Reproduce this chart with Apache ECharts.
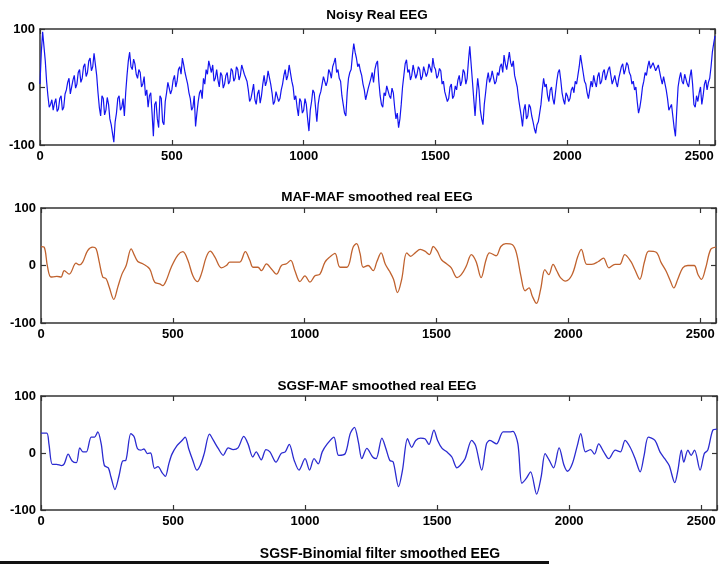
<!DOCTYPE html>
<html>
<head>
<meta charset="utf-8">
<script src="https://cdn.jsdelivr.net/npm/echarts@6/dist/echarts.min.js"></script>
<style>
html,body{margin:0;padding:0;background:#fff;}
#chart{width:723px;height:564px;}
</style>
</head>
<body>
<div id="chart"></div>
<script>
// ---- Data ----
const panelTitles = ['Noisy Real EEG', 'MAF-MAF smoothed real EEG', 'SGSF-MAF smoothed real EEG', 'SGSF-Binomial filter smoothed EEG'];
const xTicks = [0, 500, 1000, 1500, 2000, 2500];
const yTicks = [-100, 0, 100];
const sampleMax = 2560;
const noisyStep = 5; // samples between readings

// Noisy real EEG, one reading every 5 samples (0..2560)
const noisyEEG = [
  5, 60, 95, 70, 45, 10, -15, -35, -30, -22, -40, -28, -20, -42, -38, -20, -15, -40, -35, -12,
  -5, 8, 15, -12, -10, 12, 20, -2, 5, 25, 30, 8, 15, 35, 40, 18, 25, 45, 50, 28,
  35, 58, 55, 20, -10, -35, -50, -15, -20, -48, -40, -18, -30, -55, -65, -80, -95, -60, -45, -20,
  -15, -40, -35, -20, -50, -10, 20, 45, 60, 35, 30, 48, 40, 22, 15, 30, 25, 0, 5, 18,
  -15, -5, -35, -15, -10, -45, -85, -30, -25, -55, -70, -15, -20, -60, -65, -25, -10, 8, 5, -12,
  -5, 12, 20, 0, 10, 30, 35, 22, 50, 38, 25, 15, 5, -10, -20, -40, -35, -15, -68, -45,
  -25, -10, -5, -20, 15, 5, 30, 22, 45, 35, 25, 38, 10, 15, 30, 12, 0, 25, 20, -2,
  5, 20, 25, 5, 10, 32, 28, 10, 15, 35, 30, 12, 20, 38, 40, 22, 25, 10, -5, -25,
  -20, -8, 5, -22, -30, -12, -5, -28, -15, 5, 20, 2, 10, 28, 25, 5, -10, -30, -25, -8,
  -5, -25, -20, -5, 5, 20, 30, 12, 20, 38, 35, 10, 0, -22, -15, -35, -50, -20, -25, -45,
  -40, -20, -30, -55, -76, -40, -25, -5, -10, -35, -60, -30, -15, -8, 5, 18, 20, 2, 10, 30,
  25, 15, 35, 42, 50, 25, 30, 15, 10, -15, -30, -45, -50, -10, 15, 25, 30, 55, 75, 60,
  50, 35, 40, 28, 20, 5, -5, -22, -20, -2, 0, 15, 25, 8, 30, 40, 45, 10, -15, -30,
  -35, -10, -15, 2, 0, -15, -20, -2, -10, -35, -55, -45, -70, -55, -30, 0, 20, 40, 47, 25,
  30, 12, 20, 38, 35, 15, 22, 35, 30, 12, 18, 35, 33, 18, 25, 40, 38, 25, 50, 35,
  30, 15, 20, 32, 28, 5, 10, -8, -5, -25, -20, 0, 5, -20, -15, 2, -5, 12, 20, 2,
  10, 30, 25, 5, 15, 45, 70, 40, 10, -20, -50, -15, 15, -5, -40, -55, -65, -30, -10, 12,
  25, 8, 15, 28, 25, 5, 10, 25, 20, 35, 40, 25, 55, 40, 30, 45, 60, 42, 35, 45,
  20, 10, 0, -20, -35, -50, -68, -40, -30, -55, -50, -30, -35, -50, -60, -72, -80, -65, -60, -45,
  -30, -5, 15, 0, 5, -15, -25, -5, 0, -20, -30, -10, 10, 25, 30, 12, -10, -22, -30, -10,
  -15, -25, -20, -5, 0, -10, 10, 5, 20, 35, 55, 40, 25, 10, 5, -10, -20, -5, 10, 0,
  20, 8, 0, 18, 25, 5, 10, 25, 30, 12, 15, 30, 35, 20, 5, 12, 20, 8, 0, 15,
  25, 35, 40, 22, 30, 42, 38, 25, 20, 5, 10, -5, 0, -25, -45, -35, -20, 0, 10, 25,
  20, 35, 45, 32, 30, 42, 40, 28, 25, 38, 35, 15, 5, 18, 15, -5, -20, -40, -35, -30,
  -50, -70, -85, -40, 0, 15, 25, 10, 5, 22, 20, 5, 0, 18, 30, 5, -30, -35, -15, -25,
  -10, 0, -30, -15, 5, 12, -5, 8, 15, 35, 60, 75, 88
];

// MAF-MAF smoothed EEG: [sample, value]
const mafMafEEG = [
  [0,33],[12,32],[25,-3],[38,-20],[60,-19],[76,-20],[88,-9],[107,-15],[133,4],[145,1],
  [158,6],[177,26],[196,32],[209,29],[221,6],[234,-20],[247,-23],[259,-38],[276,-59],[291,-38],
  [307,-15],[323,0],[342,29],[354,18],[367,7],[386,3],[412,-6],[431,-29],[450,-32],[462,-35],
  [475,-26],[494,-3],[519,18],[538,24],[557,9],[576,-18],[593,-28],[608,-15],[627,15],[642,25],
  [659,15],[684,-4],[703,0],[716,6],[735,6],[754,6],[775,24],[792,9],[804,-3],[823,-3],
  [836,-9],[855,3],[874,-6],[893,-15],[912,0],[931,3],[947,9],[963,-9],[982,-28],[1001,-18],
  [1020,-29],[1039,-18],[1058,-15],[1077,6],[1096,15],[1115,21],[1134,-3],[1160,-3],[1184,32],[1197,38],
  [1210,21],[1222,-3],[1241,0],[1260,-9],[1274,7],[1290,22],[1306,2],[1322,-10],[1337,-24],[1352,-47],
  [1368,-24],[1387,22],[1402,16],[1419,22],[1438,28],[1456,25],[1473,19],[1488,33],[1503,25],[1519,10],
  [1538,3],[1556,-4],[1578,-21],[1594,-16],[1613,-1],[1632,19],[1650,7],[1669,-21],[1688,10],[1701,22],
  [1726,17],[1744,33],[1763,38],[1788,36],[1803,22],[1820,-18],[1836,-44],[1851,-39],[1863,-53],[1879,-66],
  [1895,-41],[1911,-7],[1926,-16],[1942,2],[1957,-10],[1970,-21],[1989,-27],[2014,-16],[2036,16],[2049,28],
  [2070,2],[2089,2],[2114,7],[2133,13],[2154,-4],[2177,2],[2195,2],[2214,19],[2237,7],[2252,-7],
  [2271,-24],[2289,7],[2305,25],[2333,23],[2352,5],[2371,-10],[2387,-27],[2400,-39],[2415,-24],[2434,-4],
  [2453,0],[2477,0],[2492,-16],[2505,-24],[2521,-4],[2540,28],[2560,32]
];

// SGSF-MAF smoothed EEG: [sample, value]
const sgsfMafEEG = [
  [0,35],[22,35],[30,16],[43,-20],[59,-20],[78,-22],[88,-19],[103,-2],[118,-14],[134,-17],
  [147,9],[159,2],[172,2],[190,28],[203,28],[215,37],[228,16],[240,-22],[255,-26],[265,-42],
  [280,-64],[296,-39],[309,-14],[321,-13],[340,34],[353,28],[365,8],[378,5],[390,7],[403,-1],
  [415,0],[430,-27],[443,-24],[459,-35],[471,-41],[484,-19],[496,-2],[515,13],[534,22],[546,28],
  [559,8],[575,-13],[590,-30],[603,-22],[618,-1],[638,33],[653,22],[671,8],[690,-4],[709,9],
  [728,6],[746,9],[768,29],[784,16],[802,-7],[815,2],[834,-12],[852,6],[867,2],[890,-16],
  [909,-1],[925,2],[940,15],[959,-13],[977,-30],[1000,-10],[1017,-30],[1034,-10],[1050,-19],[1065,2],
  [1084,16],[1109,28],[1127,-4],[1152,-1],[1171,34],[1187,45],[1202,19],[1215,-10],[1234,8],[1256,-7],
  [1269,-10],[1291,26],[1306,8],[1321,-13],[1334,-16],[1354,-59],[1369,-30],[1388,25],[1404,10],[1419,22],
  [1438,26],[1454,25],[1469,15],[1488,40],[1502,22],[1519,8],[1537,2],[1556,-7],[1575,-26],[1587,-22],
  [1606,-10],[1631,22],[1646,13],[1669,-30],[1687,16],[1700,22],[1725,16],[1750,37],[1775,37],[1787,38],
  [1806,16],[1821,-53],[1837,-45],[1854,-33],[1877,-72],[1894,-42],[1909,-1],[1925,-13],[1941,-26],[1962,9],
  [1981,-22],[1994,-32],[2012,-19],[2031,13],[2044,34],[2062,2],[2081,6],[2096,-2],[2112,16],[2131,2],
  [2150,-10],[2175,5],[2194,2],[2212,22],[2231,10],[2250,-10],[2269,-33],[2284,-4],[2300,28],[2325,22],
  [2344,2],[2362,-10],[2379,-22],[2400,-52],[2412,-30],[2425,5],[2434,-16],[2450,5],[2462,-4],[2475,5],
  [2496,-30],[2512,-1],[2525,5],[2544,40],[2560,42]
];

// ---- Chart ----
const chart = echarts.init(document.getElementById('chart'), null, {renderer: 'canvas'});
const FONT = '"Liberation Sans", Arial, Helvetica, sans-serif';
const axisCol = '#333';

const grids = [
  {left: 40, top: 29, width: 675, height: 116},
  {left: 41, top: 208, width: 675, height: 115},
  {left: 41, top: 396, width: 676, height: 114}
];
const titleTops = [3, 185, 374, 542];
const titleCenters = [372, 372, 372, 375];
const titleSizes = [13.5, 13.5, 13.5, 14];

const xAxes = [], yAxes = [];
grids.forEach((g, i) => {
  const common = {
    type: 'value', gridIndex: i, min: 0, max: sampleMax, interval: 500,
    axisLine: {show: true, onZero: false, lineStyle: {color: axisCol, width: 1.5}},
    axisTick: {show: true, inside: true, length: 5, lineStyle: {color: axisCol, width: 1.2}},
    splitLine: {show: false}
  };
  xAxes.push(Object.assign({}, common, {
    position: 'bottom',
    axisLabel: {
      show: true, margin: 5, color: '#000', fontFamily: FONT, fontWeight: 'bold', fontSize: 13,
      formatter: v => (xTicks.indexOf(v) >= 0 ? String(v) : '')
    }
  }));
  xAxes.push(Object.assign({}, common, {position: 'top', axisLabel: {show: false}}));
  const ycommon = {
    type: 'value', gridIndex: i, min: yTicks[0], max: yTicks[yTicks.length - 1], interval: 100,
    axisLine: {show: true, onZero: false, lineStyle: {color: axisCol, width: 1.5}},
    axisTick: {show: true, inside: true, length: 5, lineStyle: {color: axisCol, width: 1.2}},
    splitLine: {show: false}
  };
  yAxes.push(Object.assign({}, ycommon, {
    position: 'left',
    axisLabel: {show: true, margin: 5, color: '#000', fontFamily: FONT, fontWeight: 'bold', fontSize: 13}
  }));
  yAxes.push(Object.assign({}, ycommon, {position: 'right', axisLabel: {show: false}}));
});

const noisyData = noisyEEG.map((v, k) => [k * noisyStep, v]);

const option = {
  animation: false,
  backgroundColor: '#fff',
  title: panelTitles.map((t, i) => ({
    text: t, left: titleCenters[i], top: titleTops[i], textAlign: 'center',
    textStyle: {fontFamily: FONT, fontWeight: 'bold', fontSize: titleSizes[i], color: '#000'}
  })),
  grid: grids,
  xAxis: xAxes,
  yAxis: yAxes,
  series: [
    {type: 'line', xAxisIndex: 0, yAxisIndex: 0, data: noisyData, showSymbol: false,
     lineStyle: {color: '#1414f0', width: 1.2}},
    {type: 'line', xAxisIndex: 2, yAxisIndex: 2, data: mafMafEEG, showSymbol: false, smooth: 0.35,
     lineStyle: {color: '#c0622e', width: 1.3}},
    {type: 'line', xAxisIndex: 4, yAxisIndex: 4, data: sgsfMafEEG, showSymbol: false, smooth: 0.3,
     lineStyle: {color: '#2b2bd0', width: 1.3}}
  ],
  graphic: [
    {type: 'rect', left: 0, top: 561, shape: {width: 549, height: 3}, style: {fill: '#111'}}
  ]
};
chart.setOption(option);
</script>
</body>
</html>
